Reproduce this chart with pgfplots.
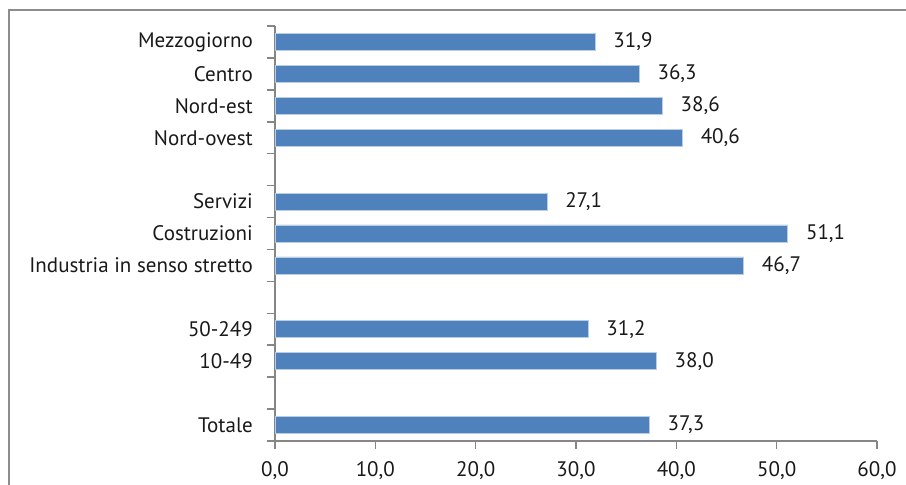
\documentclass[border=0pt]{standalone}
\usepackage{pgfplots}
\pgfplotsset{compat=1.18}
\usepackage{fontspec}
\setmainfont{PT Sans}
\definecolor{barblue}{RGB}{79,129,189}
\definecolor{baredge}{RGB}{185,205,229}
\definecolor{axgray}{RGB}{134,134,134}
\definecolor{framegray}{RGB}{140,140,140}

% y: 1 = Totale ... 13 = Mezzogiorno (2, 5, 9 empty gaps)
\pgfplotstableread{
y  v
1  37.3
3  38.0
4  31.2
6  46.7
7  51.1
8  27.1
10 40.6
11 38.6
12 36.3
13 31.9
}\datatab

\begin{document}
\fontsize{21}{25}\selectfont
\begin{tikzpicture}[x=1pt,y=1pt]
\useasboundingbox (0,0) rectangle (906,485);
\draw[framegray, line width=2.5pt] (9,0) -- (9,475) -- (906,475);
\begin{axis}[
    at={(275pt,44pt)}, anchor=south west,
    scale only axis, width=602pt, height=415pt,
    xbar, bar width=17pt,
    xmin=0, xmax=60, ymin=0.5, ymax=13.5,
    axis x line*=bottom, axis y line*=left,
    axis line style={axgray, line width=1.5pt, -},
    xtick={0,10,...,60},
    ytick={0.5,1.5,...,13.5}, yticklabels={},
    extra y ticks={1,3,4,6,7,8,10,11,12,13},
    extra y tick labels={Totale,10-49,50-249,Industria in senso stretto,Costruzioni,Servizi,Nord-ovest,Nord-est,Centro,Mezzogiorno},
    extra y tick style={major tick length=0pt, tick style={draw=none}},
    tick align=outside, major tick length=8pt,
    tick style={axgray, line width=1.5pt},
    yticklabel style={font=\fontsize{21}{25}\selectfont, text=black!90, inner sep=0pt, xshift=-22pt},
    xticklabel style={font=\fontsize{21}{25}\selectfont, text=black!90, inner sep=0pt, yshift=-12pt},
    /pgf/number format/.cd, fixed, fixed zerofill, precision=1, use comma, assume math mode=true,
    /pgfplots/.cd,
    nodes near coords,
    nodes near coords style={font=\fontsize{21}{25}\selectfont, text=black!90, anchor=west, inner sep=0pt, xshift=18pt,
        /pgf/number format/.cd, fixed, fixed zerofill, precision=1, use comma, assume math mode=true},
]
\addplot[fill=barblue, draw=baredge, line width=0.8pt] table[x=v, y=y] {\datatab};
\end{axis}
\end{tikzpicture}
\end{document}
